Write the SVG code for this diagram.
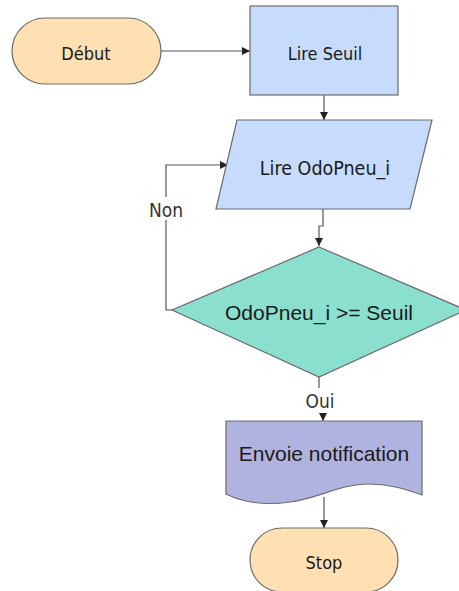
<svg xmlns="http://www.w3.org/2000/svg" width="459" height="591" viewBox="0 0 459 591">
<style>
.shape{stroke:#6b6b6b;stroke-width:1.2}
.term{fill:#ffe0b3}
.proc{fill:#c7dcfc}
.dec{fill:#8adfcf}
.doc{fill:#b0b3e0}
.t{font-family:"DejaVu Sans Condensed","DejaVu Sans",sans-serif;font-stretch:condensed;font-size:18px;fill:#1a1a1a;text-anchor:middle}
.a{font-family:"Liberation Sans",Arial,sans-serif;font-size:21px;fill:#1a1a1a;text-anchor:middle}
.lbl{font-family:"DejaVu Sans Condensed","DejaVu Sans",sans-serif;font-stretch:condensed;font-size:19px;fill:#333;text-anchor:middle}
.c{fill:none;stroke:#555;stroke-width:1.2}
</style>
<defs>
<marker id="arr" markerWidth="8" markerHeight="8" refX="8" refY="4" orient="auto" markerUnits="userSpaceOnUse">
<path d="M0,0 L8,4 L0,8 Z" fill="#222"/>
</marker>
</defs>
<rect width="459" height="591" fill="#ffffff"/>
<g id="connectors">
<path class="c" d="M161,51 H250" marker-end="url(#arr)"/>
<path class="c" d="M324,95 V120" marker-end="url(#arr)"/>
<path class="c" d="M323,209 V226 H319 V246" marker-end="url(#arr)"/>
<path class="c" d="M172,310 H166 V220"/>
<path class="c" d="M166,197 V165 H228" marker-end="url(#arr)"/>
<path class="c" d="M319,377 V388"/>
<path class="c" d="M323,413 V421" marker-end="url(#arr)"/>
<path class="c" d="M324,497 V528" marker-end="url(#arr)"/>
<text class="lbl" x="166" y="217">Non</text>
<text class="lbl" x="320" y="408">Oui</text>
</g>
<g id="debut">
<rect class="shape term" x="12" y="18" width="149" height="66" rx="33" ry="33"/>
<text class="t" x="86" y="60">Début</text>
</g>
<g id="lire-seuil">
<rect class="shape proc" x="250" y="6" width="148" height="89"/>
<text class="t" x="325" y="60">Lire Seuil</text>
</g>
<g id="lire-odopneu">
<polygon class="shape proc" points="237,120 432,120 410,209 216,209"/>
<text class="t" x="325" y="175" style="font-size:19.5px">Lire OdoPneu_i</text>
</g>
<g id="test">
<polygon class="shape dec" points="319,247 466,310 319,377 172,310"/>
<text class="a" x="319" y="320">OdoPneu_i &gt;= Seuil</text>
</g>
<g id="notification">
<path class="shape doc" d="M226,421 H422 V495 C405,489 390,484 368,484 C340,484 320,498 290,502 C262,506 242,502 226,494 Z"/>
<text class="a" x="324" y="461">Envoie notification</text>
</g>
<g id="stop">
<rect class="shape term" x="250" y="528" width="148" height="64" rx="32" ry="32"/>
<text class="t" x="324" y="569">Stop</text>
</g>
</svg>
